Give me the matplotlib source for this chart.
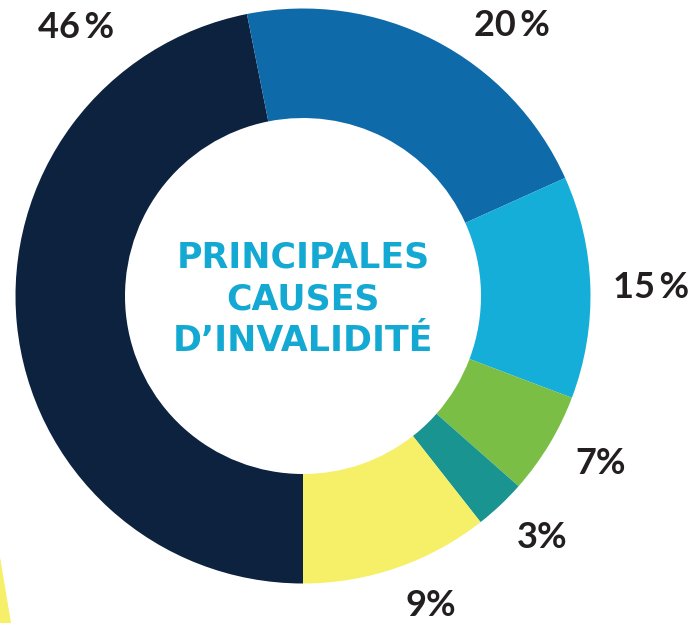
import matplotlib.pyplot as plt
from matplotlib.patches import Polygon

# causes, clockwise from the bottom of the ring
labels = ['46\u2009%', '20\u2009%', '15\u2009%', '7%', '3%', '9%']
# arc shares as drawn in the picture (the ring is not exactly to scale)
shares = [46.9, 21.4, 12.5, 5.75, 2.9, 10.6]
colors = ['#0d223f', '#0e6aa8', '#15aed8', '#7abe45', '#1a9491', '#f6ef68']
label_pos = [(76, 27), (512, 26), (651, 288), (601, 463), (542, 538), (431, 605)]
title = 'PRINCIPALES\nCAUSES\nD\u2019INVALIDITÉ'

W, H = 690, 623
fig = plt.figure(figsize=(W / 100, H / 100), dpi=100)
ax = fig.add_axes([0, 0, 1, 1])

cx, cy = 303, H - 296
r_out = 287.5
r_in = 178

ax.pie(shares, colors=colors, startangle=270, counterclock=False,
       center=(cx, cy), radius=r_out, frame=True,
       wedgeprops=dict(width=r_out - r_in, linewidth=0))
ax.set_xlim(0, W)
ax.set_ylim(0, H)
ax.set_aspect('auto')
ax.axis('off')

for txt, (x, y) in zip(labels, label_pos):
    ax.text(x, H - y, txt, ha='center', va='center', fontsize=26,
            fontweight='bold', color='#231f20',
            family=['Lato', 'DejaVu Sans'])

ax.text(cx, H - 299, title, ha='center', va='center', fontsize=25,
        fontweight='bold', color='#14a9d3', linespacing=1.29,
        multialignment='center', family=['DejaVu Sans'])

# bit of a yellow shape cut by the bottom-left edge
ax.add_patch(Polygon([(0, H - 557), (11, 0), (0, 0)], closed=True,
                     color='#f6ef68', lw=0))

fig.savefig('out.png', dpi=100)
